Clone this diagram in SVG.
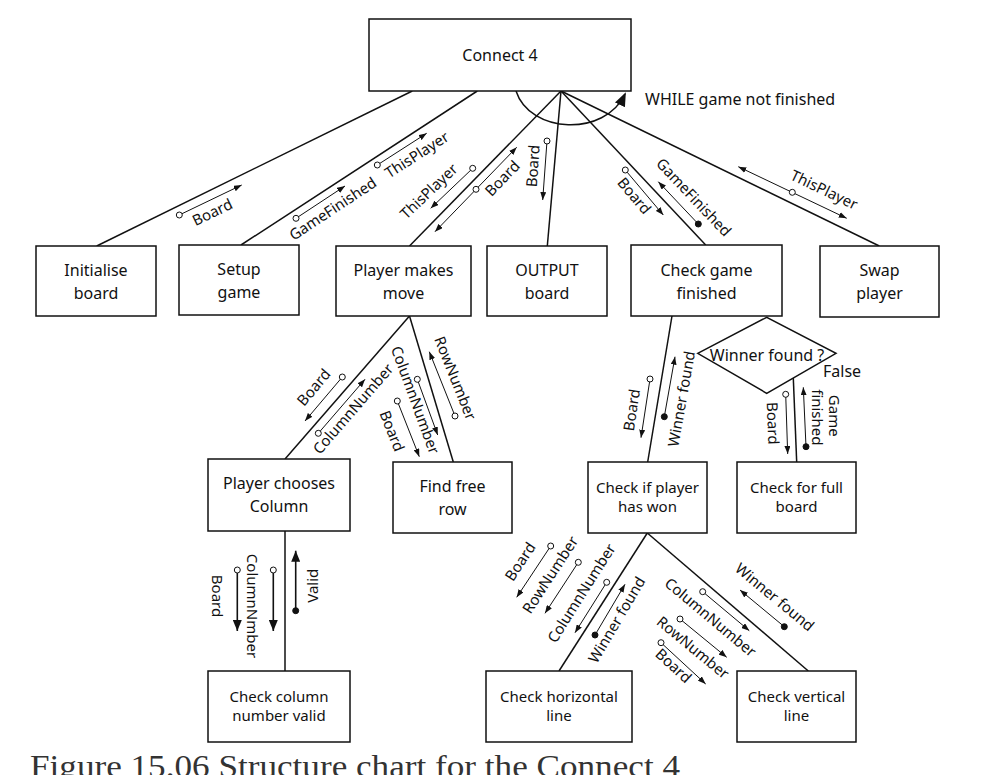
<svg xmlns="http://www.w3.org/2000/svg" width="993" height="775" viewBox="0 0 993 775">
<style>
.box{fill:#fff;stroke:#111;stroke-width:1.5}
.con{stroke:#111;stroke-width:1.5;fill:none}
.dc{stroke:#111;stroke-width:1;fill:none;marker-end:url(#a)}
.dcb{stroke:#111;stroke-width:1;fill:none;marker-start:url(#a);marker-end:url(#a)}
.dcB{stroke:#111;stroke-width:1.6;fill:none;marker-end:url(#ab)}
.oc{fill:#fff;stroke:#111;stroke-width:1}
.fc{fill:#111;stroke:#111;stroke-width:1}
text{font-family:"Noto Sans","Open Sans","Liberation Sans",sans-serif;fill:#111}
.t{font-size:16px;text-anchor:middle}
.s{font-size:15px;text-anchor:middle}
.l{font-size:15px;text-anchor:middle}
.cap{font-family:"Liberation Serif","DejaVu Serif",serif;font-size:32px;fill:#333}
</style>
<defs>
<marker id="a" markerUnits="userSpaceOnUse" markerWidth="8" markerHeight="6" refX="8" refY="3" orient="auto-start-reverse"><path d="M0,0 L8,3 L0,6 z" fill="#111"/></marker>
<marker id="ab" markerUnits="userSpaceOnUse" markerWidth="11" markerHeight="9" refX="11" refY="4.5" orient="auto"><path d="M0,0 L11,4.5 L0,9 z" fill="#111"/></marker>
<marker id="al" markerUnits="userSpaceOnUse" markerWidth="14" markerHeight="11" refX="12" refY="5.5" orient="auto"><path d="M0,0 L14,5.5 L0,11 z" fill="#111"/></marker>
</defs>

<g id="connectors">
<line class="con" x1="412.3" y1="91" x2="96.7" y2="246"/>
<line class="con" x1="477.3" y1="91" x2="241" y2="245"/>
<line class="con" x1="561" y1="91" x2="409.5" y2="246"/>
<line class="con" x1="561" y1="91" x2="547.3" y2="246"/>
<line class="con" x1="561" y1="91" x2="705.7" y2="245"/>
<line class="con" x1="561" y1="91" x2="879.3" y2="246"/>
<line class="con" x1="409.5" y1="316" x2="285" y2="459"/>
<line class="con" x1="409.5" y1="316" x2="453.3" y2="462"/>
<line class="con" x1="672" y1="316" x2="647.7" y2="462"/>
<line class="con" x1="793.3" y1="378" x2="796.7" y2="462"/>
<line class="con" x1="285" y1="531" x2="285" y2="671"/>
<line class="con" x1="647.3" y1="533" x2="559" y2="671"/>
<line class="con" x1="647.3" y1="533" x2="808.3" y2="671"/>
<path class="con" d="M516,91 C530,134 605,137 625,94" marker-end="url(#al)"/>
</g>

<g id="couples">
<line class="dc" x1="179.3" y1="215" x2="241.7" y2="185"/><circle class="oc" cx="179.3" cy="215" r="3"/>
<line class="dc" x1="296" y1="218.3" x2="345" y2="186"/><circle class="oc" cx="296" cy="218.3" r="3"/>
<line class="dc" x1="377.3" y1="165" x2="426.7" y2="133.3"/><circle class="oc" cx="377.3" cy="165" r="3"/>
<line class="dc" x1="472.7" y1="168.3" x2="430.7" y2="208.3"/><circle class="oc" cx="472.7" cy="168.3" r="3"/>
<line class="dcb" x1="435" y1="231.7" x2="516.7" y2="147.3"/><circle class="oc" cx="476" cy="189.3" r="3"/>
<line class="dc" x1="547" y1="141" x2="542.7" y2="200"/><circle class="oc" cx="547" cy="141" r="3"/>
<line class="dc" x1="625.3" y1="170" x2="663.3" y2="215"/><circle class="oc" cx="625.3" cy="170" r="3"/>
<line class="dc" x1="698.3" y1="224" x2="658.3" y2="181.7"/><circle class="fc" cx="698.3" cy="224" r="3"/>
<line class="dcb" x1="738.3" y1="166.7" x2="846.7" y2="218.3"/><circle class="oc" cx="792.3" cy="192.3" r="3"/>
<line class="dc" x1="342.3" y1="377" x2="305" y2="421"/><circle class="oc" cx="342.3" cy="377" r="3"/>
<line class="dc" x1="318.3" y1="433.3" x2="365" y2="379.3"/><circle class="oc" cx="318.3" cy="433.3" r="3"/>
<line class="dc" x1="417.3" y1="379.3" x2="437.7" y2="435"/><circle class="oc" cx="417.3" cy="379.3" r="3"/>
<line class="dc" x1="397.3" y1="401" x2="419.3" y2="456.7"/><circle class="oc" cx="397.3" cy="401" r="3"/>
<line class="dc" x1="455" y1="416" x2="429.3" y2="351.7"/><circle class="oc" cx="455" cy="416" r="3"/>
<line class="dc" x1="650" y1="379" x2="641" y2="437.7"/><circle class="oc" cx="650" cy="379" r="3"/>
<line class="dc" x1="664.3" y1="416.7" x2="675" y2="356.7"/><circle class="fc" cx="664.3" cy="416.7" r="3"/>
<line class="dc" x1="785.7" y1="394.3" x2="787.7" y2="454"/><circle class="oc" cx="785.7" cy="394.3" r="3"/>
<line class="dc" x1="806" y1="446.7" x2="803.3" y2="387.3"/><circle class="fc" cx="806" cy="446.7" r="3"/>
<line class="dcB" x1="237.3" y1="570" x2="237.3" y2="631"/><circle class="oc" cx="237.3" cy="570" r="3"/>
<line class="dcB" x1="273.3" y1="570" x2="273.3" y2="631"/><circle class="oc" cx="273.3" cy="570" r="3"/>
<line class="dcB" x1="295.7" y1="610.7" x2="295.7" y2="550.7"/><circle class="fc" cx="295.7" cy="610.7" r="3"/>
<line class="dc" x1="550.7" y1="546" x2="516.7" y2="597.3"/><circle class="oc" cx="550.7" cy="546" r="3"/>
<line class="dc" x1="578.3" y1="562.3" x2="545" y2="613.3"/><circle class="oc" cx="578.3" cy="562.3" r="3"/>
<line class="dc" x1="606.7" y1="582.3" x2="575" y2="632.7"/><circle class="oc" cx="606.7" cy="582.3" r="3"/>
<line class="dc" x1="595" y1="635" x2="625" y2="584.3"/><circle class="fc" cx="595" cy="635" r="3"/>
<line class="dc" x1="702.7" y1="591.7" x2="749.3" y2="630.7"/><circle class="oc" cx="702.7" cy="591.7" r="3"/>
<line class="dc" x1="680" y1="619" x2="726.7" y2="657.3"/><circle class="oc" cx="680" cy="619" r="3"/>
<line class="dc" x1="661" y1="642.7" x2="705.7" y2="684"/><circle class="oc" cx="661" cy="642.7" r="3"/>
<line class="dc" x1="784.3" y1="626.7" x2="740" y2="590"/><circle class="fc" cx="784.3" cy="626.7" r="3"/>
</g>

<g id="labels">
<text class="l" transform="translate(212.5,212.5) rotate(-25.7)" y="5">Board</text>
<text class="l" transform="translate(333,209) rotate(-33.4)" y="5">GameFinished</text>
<text class="l" transform="translate(417,155) rotate(-32.7)" y="5">ThisPlayer</text>
<text class="l" transform="translate(429,191.5) rotate(-43.6)" y="5">ThisPlayer</text>
<text class="l" transform="translate(502.5,178.5) rotate(-46)" y="5">Board</text>
<text class="l" transform="translate(533.3,166) rotate(-86)" y="5">Board</text>
<text class="l" transform="translate(634,196) rotate(49.8)" y="5">Board</text>
<text class="l" transform="translate(693.5,197.5) rotate(46.6)" y="5">GameFinished</text>
<text class="l" transform="translate(824,190) rotate(25.5)" y="5">ThisPlayer</text>
<text class="l" transform="translate(314,387.5) rotate(-49.7)" y="5">Board</text>
<text class="l" transform="translate(353.3,409) rotate(-49.1)" y="5">ColumnNumber</text>
<text class="l" transform="translate(415,400) rotate(69.9)" y="5">ColumnNumber</text>
<text class="l" transform="translate(391.7,431) rotate(68.4)" y="5">Board</text>
<text class="l" transform="translate(455,378.3) rotate(68.2)" y="5">RowNumber</text>
<text class="l" transform="translate(632,410) rotate(-81.3)" y="5">Board</text>
<text class="l" transform="translate(681.7,399) rotate(-79.9)" y="5">Winner found</text>
<text class="l" transform="translate(772.5,423.3) rotate(88)" y="5">Board</text>
<text class="l" transform="translate(834,415.7) rotate(90)" y="5">Game</text>
<text class="l" transform="translate(817,417.3) rotate(90)" y="5">finished</text>
<text class="l" transform="translate(252.3,606) rotate(90)" y="5">ColumnNmber</text>
<text class="l" transform="translate(216.7,596) rotate(90)" y="5">Board</text>
<text class="l" transform="translate(313.3,585.7) rotate(-90)" y="5">Valid</text>
<text class="l" transform="translate(520.5,561.7) rotate(-56.5)" y="5">Board</text>
<text class="l" transform="translate(550.5,575) rotate(-56.9)" y="5">RowNumber</text>
<text class="l" transform="translate(581.7,593.3) rotate(-57.8)" y="5">ColumnNumber</text>
<text class="l" transform="translate(617,620) rotate(-59.4)" y="5">Winner found</text>
<text class="l" transform="translate(710.3,617.5) rotate(39.9)" y="5">ColumnNumber</text>
<text class="l" transform="translate(692.8,647.8) rotate(39.4)" y="5">RowNumber</text>
<text class="l" transform="translate(673.3,666) rotate(42.7)" y="5">Board</text>
<text class="l" transform="translate(774.5,597.3) rotate(39.6)" y="5">Winner found</text>
<text style="font-size:16px" x="645" y="105">WHILE game not finished</text>
<text style="font-size:16px" x="823" y="377">False</text>
</g>

<g id="connect4"><rect class="box" x="369" y="19" width="262" height="72"/><text class="t" x="500" y="61">Connect 4</text></g>
<g id="initialise"><rect class="box" x="36" y="246" width="120" height="70"/><text class="t" x="96" y="276">Initialise</text><text class="t" x="96" y="299">board</text></g>
<g id="setup"><rect class="box" x="179" y="245" width="120" height="70"/><text class="t" x="239" y="275">Setup</text><text class="t" x="239" y="298">game</text></g>
<g id="playermove"><rect class="box" x="336" y="246" width="135" height="70"/><text class="t" x="403.5" y="276">Player makes</text><text class="t" x="403.5" y="299">move</text></g>
<g id="output"><rect class="box" x="487" y="246" width="120" height="70"/><text class="t" x="547" y="276">OUTPUT</text><text class="t" x="547" y="299">board</text></g>
<g id="checkgame"><rect class="box" x="631" y="245" width="151" height="71"/><text class="t" x="706.5" y="276">Check game</text><text class="t" x="706.5" y="299">finished</text></g>
<g id="swap"><rect class="box" x="820" y="246" width="119" height="71"/><text class="t" x="879.5" y="276">Swap</text><text class="t" x="879.5" y="299">player</text></g>
<g id="winnerfound"><polygon class="box" points="697.7,353.3 766.7,317.3 836,353.3 766.7,393.3"/><text class="t" x="767" y="361">Winner found ?</text></g>
<g id="chooses"><rect class="box" x="208" y="459" width="142" height="72"/><text class="t" x="279" y="489">Player chooses</text><text class="t" x="279" y="512">Column</text></g>
<g id="freerow"><rect class="box" x="393" y="462" width="119" height="71"/><text class="t" x="452.5" y="492">Find free</text><text class="t" x="452.5" y="515">row</text></g>
<g id="haswon"><rect class="box" x="588" y="462" width="119" height="71"/><text class="s" x="647.5" y="493">Check if player</text><text class="s" x="647.5" y="512">has won</text></g>
<g id="fullboard"><rect class="box" x="737" y="462" width="119" height="71"/><text class="s" x="796.5" y="493">Check for full</text><text class="s" x="796.5" y="512">board</text></g>
<g id="colvalid"><rect class="box" x="208" y="671" width="142" height="71"/><text class="s" x="279" y="702">Check column</text><text class="s" x="279" y="721">number valid</text></g>
<g id="horizontal"><rect class="box" x="486" y="671" width="146" height="71"/><text class="s" x="559" y="702">Check horizontal</text><text class="s" x="559" y="721">line</text></g>
<g id="vertical"><rect class="box" x="737" y="671" width="119" height="71"/><text class="s" x="796.5" y="702">Check vertical</text><text class="s" x="796.5" y="721">line</text></g>

<text class="cap" x="30" y="777" textLength="650" lengthAdjust="spacingAndGlyphs">Figure 15.06 Structure chart for the Connect 4</text>
</svg>
